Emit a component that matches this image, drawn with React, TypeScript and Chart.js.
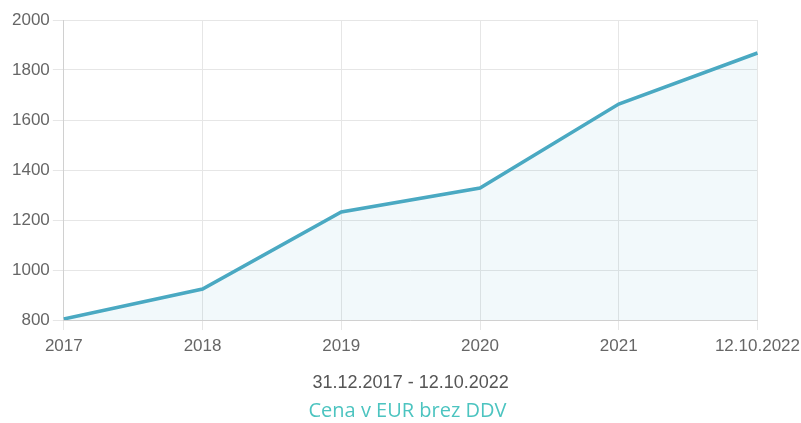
import React, { useEffect, useRef } from "react";
import { Chart, registerables } from "chart.js";

Chart.register(...registerables);

const labels = ["2017", "2018", "2019", "2020", "2021", "12.10.2022"];
const prices = [804, 924, 1232, 1328, 1664, 1868];
const dateRange = "31.12.2017 - 12.10.2022";
const seriesTitle = "Cena v EUR brez DDV";

const tickFont = { family: "'Liberation Sans', Arial, sans-serif", size: 17 };

export default function App() {
  const ref = useRef<HTMLCanvasElement | null>(null);
  useEffect(() => {
    if (!ref.current) return;
    const chart = new Chart(ref.current, {
      type: "line",
      data: {
        labels,
        datasets: [
          {
            label: seriesTitle,
            data: prices,
            borderColor: "#4aa9c2",
            backgroundColor: "rgba(74,169,194,0.07)",
            borderWidth: 3.5,
            fill: true,
            pointRadius: 0,
            tension: 0,
          },
        ],
      },
      options: {
        animation: false,
        responsive: true,
        maintainAspectRatio: false,
        layout: { padding: { top: 20, left: 9, right: 0, bottom: 0 } },
        plugins: {
          legend: { display: false },
          tooltip: { enabled: false },
          title: {
            display: true,
            position: "bottom",
            text: seriesTitle,
            color: "#4cc4c0",
            font: { family: "'Open Sans', sans-serif", size: 20, weight: "normal" },
            padding: { top: 3, bottom: 0 },
          },
        },
        scales: {
          x: {
            grid: { color: "#e6e6e6", tickLength: 10 },
            border: { color: "#d0d0d0" },
            ticks: {
              color: "#666",
              font: tickFont,
              maxRotation: 0,
              padding: 6,
            },
            title: {
              display: true,
              text: dateRange,
              color: "#555",
              font: { family: "'Liberation Sans', Arial, sans-serif", size: 18 },
              padding: { top: 10, bottom: 2 },
            },
          },
          y: {
            min: 800,
            max: 2000,
            grid: { color: "#e6e6e6", tickLength: 11 },
            border: { color: "#d0d0d0" },
            ticks: {
              stepSize: 200,
              color: "#666",
              font: tickFont,
              padding: 3,
              callback: (v: any) => String(v),
            },
          },
        },
      },
    });
    return () => chart.destroy();
  }, []);
  return (
    <div style={{ position: "fixed", left: 0, top: 0, width: 806, height: 423, background: "#fff" }}>
      <canvas ref={ref} />
    </div>
  );
}
